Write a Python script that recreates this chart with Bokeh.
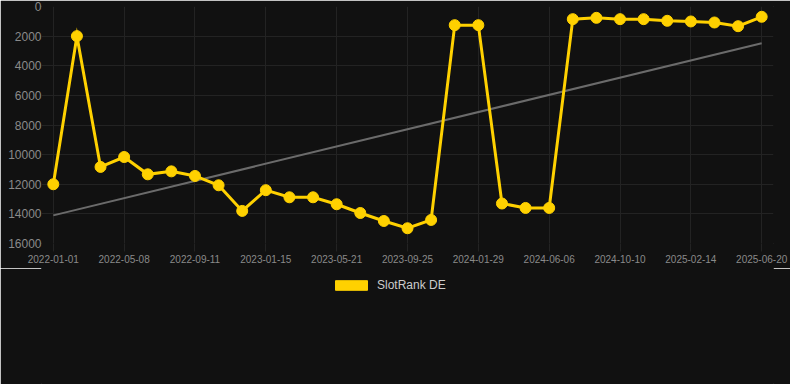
from bokeh.plotting import figure
from bokeh.layouts import column
from bokeh.models import (Range1d, FixedTicker, Legend, LegendItem, ColumnDataSource)
from bokeh.embed import file_html
from bokeh.resources import INLINE

# ---- data ----
ranks = [12000, 2000, 10830, 10160, 11330, 11130, 11440, 12070, 13800, 12400,
         12880, 12880, 13350, 13940, 14480, 14970, 14410, 1260, 1260, 13300,
         13600, 13600, 855, 765, 855, 855, 965, 1010, 1080, 1330, 695]
tick_labels = ["2022-01-01", "2022-05-08", "2022-09-11", "2023-01-15", "2023-05-21",
               "2023-09-25", "2024-01-29", "2024-06-06", "2024-10-10", "2025-02-14",
               "2025-06-20"]
tick_step = 3
trend_idx = [0, 30]
trend_vals = [14100, 2480]
y_ticks = [0, 2000, 4000, 6000, 8000, 10000, 12000, 14000, 16000]
series_name = "SlotRank DE"

BG = "#111111"
GRID = "#232323"
GOLD = "#FFD100"
FONT = "Liberation Sans"

idx = list(range(len(ranks)))
x_ticks = [i * tick_step for i in range(len(tick_labels))]


def style(fig):
    fig.background_fill_color = BG
    fig.border_fill_color = BG
    fig.outline_line_color = BG
    fig.outline_line_width = 1


p = figure(width=790, height=268, output_backend="svg", toolbar_location=None,
           x_range=Range1d(-0.5, len(ranks) - 0.5), y_range=Range1d(16000, 0),
           min_border_left=41, min_border_right=17, min_border_top=6,
           min_border_bottom=25)
style(p)

src = ColumnDataSource(dict(x=idx, y=ranks))
p.line(x=trend_idx, y=trend_vals, line_color="#6b6b6b", line_width=2)
p.line("x", "y", source=src, line_color=GOLD, line_width=3, line_join="miter")
p.scatter("x", "y", source=src, size=11, fill_color=GOLD, line_color=GOLD)

# axes
xa = p.xaxis[0]
xa.ticker = FixedTicker(ticks=x_ticks)
xa.major_label_overrides = {t: l for t, l in zip(x_ticks, tick_labels)}
xa.major_label_text_font = FONT
xa.major_label_text_font_size = "10px"
xa.major_label_text_color = "#8a8a8a"
xa.axis_line_color = None
xa.major_tick_line_color = GRID
xa.major_tick_out = 8
xa.major_tick_in = 0
xa.minor_tick_line_color = None
xa.major_label_standoff = 3

ya = p.yaxis[0]
ya.ticker = FixedTicker(ticks=y_ticks)
ya.major_label_overrides = {t: str(t) for t in y_ticks}
ya.major_label_text_font = FONT
ya.major_label_text_font_size = "12px"
ya.major_label_text_color = "#8a8a8a"
ya.axis_line_color = None
ya.major_tick_line_color = None
ya.major_tick_out = 0
ya.major_tick_in = 0
ya.minor_tick_line_color = None
ya.major_label_standoff = 0

p.xgrid.grid_line_color = GRID
p.ygrid.grid_line_color = GRID
p.xgrid.ticker = FixedTicker(ticks=x_ticks)
p.ygrid.ticker = FixedTicker(ticks=y_ticks)

# legend strip (separate figure so the legend is not clipped by the chart frame)
p2 = figure(width=790, height=116, output_backend="svg", toolbar_location=None,
            x_range=Range1d(0, 1), y_range=Range1d(0, 1),
            x_axis_type=None, y_axis_type=None,
            min_border_left=41, min_border_right=17, min_border_top=0,
            min_border_bottom=0)
style(p2)
p2.grid.visible = False
box = p2.rect(x=[-10], y=[-10], width=1, height=1, fill_color=GOLD, line_color=GOLD)

legend = Legend(items=[LegendItem(label=series_name, renderers=[box])],
                orientation="horizontal", location=(286, 88),
                glyph_width=40, glyph_height=12,
                label_text_font=FONT, label_text_font_size="12px",
                label_text_color="#cccccc", label_standoff=6,
                background_fill_alpha=0, border_line_alpha=0,
                padding=4, margin=0, spacing=0)
p2.add_layout(legend, "center")

layout = column(p, p2, spacing=0)
html = file_html(layout, INLINE)
html = html.replace("<body>", '<body style="margin:0;background:#111111;">', 1)
open("out.html", "w").write(html)
